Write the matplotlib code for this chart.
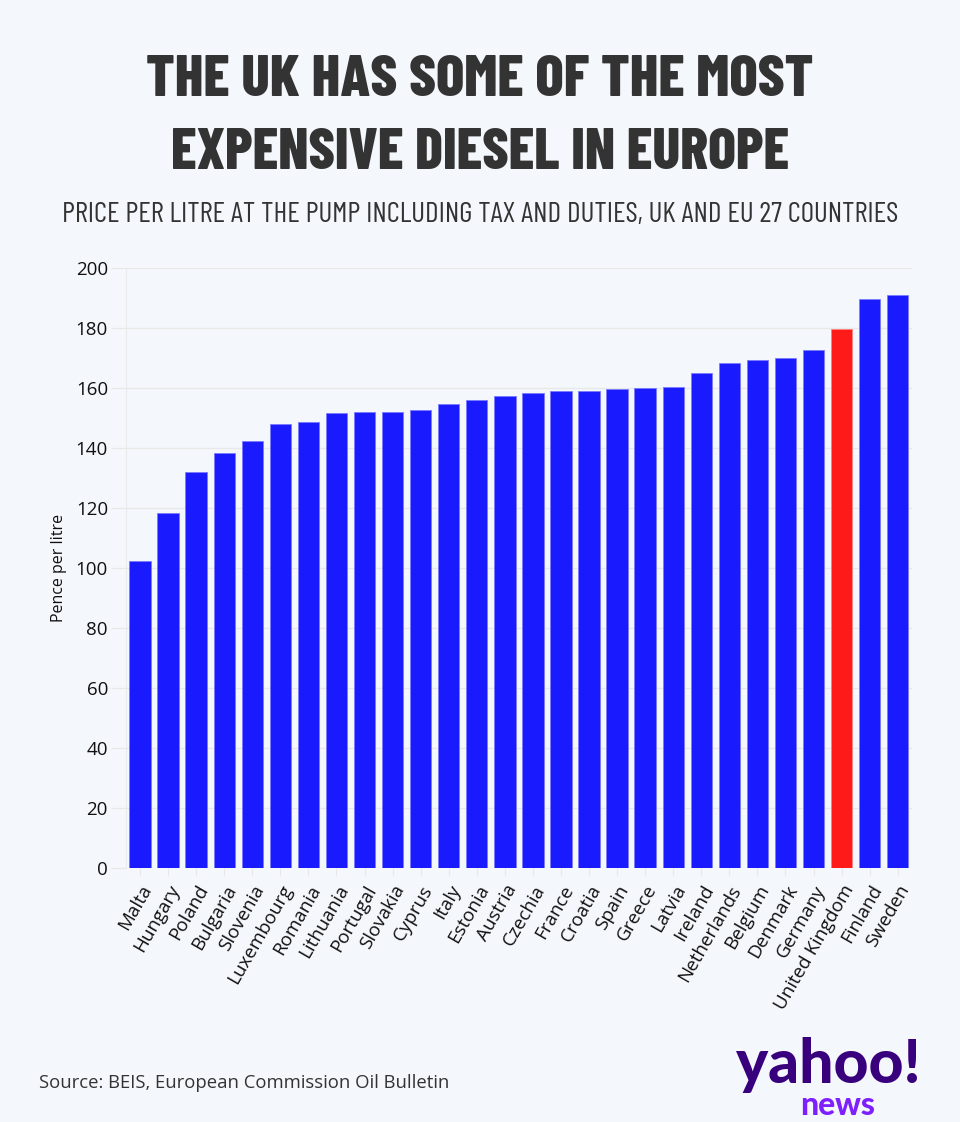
import matplotlib
matplotlib.use("Agg")
import matplotlib.pyplot as plt
from matplotlib import font_manager

countries = [
    "Malta", "Hungary", "Poland", "Bulgaria", "Slovenia", "Luxembourg", "Romania",
    "Lithuania", "Portugal", "Slovakia", "Cyprus", "Italy", "Estonia", "Austria",
    "Czechia", "France", "Croatia", "Spain", "Greece", "Latvia", "Ireland",
    "Netherlands", "Belgium", "Denmark", "Germany", "United Kingdom", "Finland", "Sweden",
]
prices = [
    102.4, 118.2, 132.0, 138.3, 142.2, 147.9, 148.7,
    151.6, 152.1, 152.1, 152.7, 154.8, 156.0, 157.2,
    158.3, 159.0, 159.1, 159.8, 160.0, 160.4, 164.9,
    168.2, 169.2, 169.9, 172.7, 179.7, 189.8, 190.9,
]
highlight = "United Kingdom"
y_ticks = [0, 20, 40, 60, 80, 100, 120, 140, 160, 180, 200]

title_lines = ["THE UK HAS SOME OF THE MOST", "EXPENSIVE DIESEL IN EUROPE"]
subtitle = "PRICE PER LITRE AT THE PUMP INCLUDING TAX AND DUTIES, UK AND EU 27 COUNTRIES"
source = "Source: BEIS, European Commission Oil Bulletin"

BG = "#f4f7fb"
BLUE = "#1a1aff"
RED = "#ff1a1a"
DARK = "#333333"

available = {f.name for f in font_manager.fontManager.ttflist}


def pick(*names):
    for n in names:
        if n in available:
            return n
    return "DejaVu Sans"


narrow = pick("Barlow Condensed", "Roboto Condensed", "Fjalla One", "Oswald", "Archivo Narrow")
body = pick("Open Sans", "Noto Sans")

fig = plt.figure(figsize=(9.6, 11.22), dpi=100, facecolor=BG)
ax = fig.add_axes([0.13125, 0.2264, 0.8185, 0.5347], facecolor=BG)

colors = [RED if c == highlight else BLUE for c in countries]
edges = ["#ff8080" if c == highlight else "#7a7aff" for c in countries]
ax.bar(range(len(countries)), prices, width=0.76, color=colors,
       edgecolor=edges, linewidth=0.6, zorder=3)

ax.set_xlim(-0.5, len(countries) - 0.5)
ax.set_ylim(0, 200)
ax.set_yticks(y_ticks)
ax.set_yticklabels([str(t) for t in y_ticks], fontsize=13.5, family=body, color="#111111")
ax.set_xticks(range(len(countries)))
ax.set_xticklabels(countries, rotation=60, ha="right", rotation_mode="anchor",
                   fontsize=13.5, family=body, color="#111111")
ax.tick_params(axis="y", length=11, color="#e8e8e8", pad=2)
ax.tick_params(axis="x", length=6, color="#e8e8e8", pad=4)
ax.grid(axis="y", color="#e8e8e8", linewidth=0.9, zorder=0)
for s in ["top", "right", "bottom"]:
    ax.spines[s].set_visible(False)
ax.spines["left"].set_color("#eaeaea")
ax.set_ylabel("Pence per litre", fontsize=11.5, family=body, color="#111111", labelpad=6)

renderer = fig.canvas.get_renderer()


def fitted_text(x, y, s, width_px, size, **kw):
    # shrink/grow the font so the text spans the same width as in the reference
    t = fig.text(x, y, s, fontsize=size, **kw)
    w = t.get_window_extent(renderer).width
    t.set_fontsize(size * width_px / w)
    return t


fitted_text(0.5, 0.928, title_lines[0], 667, 50, ha="center", va="center",
            fontweight=800, family=narrow, color=DARK)
fitted_text(0.5, 0.8635, title_lines[1], 618, 50, ha="center", va="center",
            fontweight=800, family=narrow, color=DARK)
fitted_text(0.5, 0.8085, subtitle, 835, 17, ha="center", va="center",
            family=narrow, color=DARK)

fig.text(0.041, 0.035, source, ha="left", va="center",
         fontsize=13.3, family=body, color=DARK)

fitted_text(0.8625, 0.051, "yahoo!", 184, 40, ha="center", va="center",
            fontweight="black", family="Lato", color="#39007d")
fitted_text(0.873, 0.015, "news", 75, 22, ha="center", va="center",
            fontweight="black", family="Lato", color="#7e1fff")

fig.savefig("out.png", dpi=100, facecolor=BG)
